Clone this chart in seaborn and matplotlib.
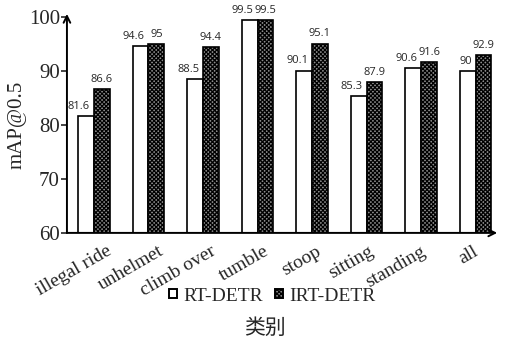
import numpy as np
import pandas as pd
import seaborn as sns
import matplotlib.pyplot as plt
from matplotlib.patches import Patch

categories = ['illegal ride', 'unhelmet', 'climb over', 'tumble', 'stoop', 'sitting', 'standing', 'all']
rt_detr = [81.6, 94.6, 88.5, 99.5, 90.1, 85.3, 90.6, 90]
irt_detr = [86.6, 95, 94.4, 99.5, 95.1, 87.9, 91.6, 92.9]
models = ['RT-DETR', 'IRT-DETR']
yticks = [60, 70, 80, 90, 100]

sns.set_theme(style='white')
plt.rcParams['font.family'] = ['Liberation Serif', 'Noto Sans CJK SC']
plt.rcParams['hatch.linewidth'] = 0.9

hatch = 'xxxxxxxx'
hatch_face = '#8c8c8c'

df = pd.DataFrame({
    'category': categories * 2,
    'value': rt_detr + irt_detr,
    'model': [models[0]] * len(categories) + [models[1]] * len(categories),
})

fig = plt.figure(figsize=(5.11, 3.43), dpi=100)
ax = fig.add_axes([0.131, 0.321, 0.842, 0.629])

sns.barplot(data=df, x='category', y='value', hue='model', order=categories,
            hue_order=models, width=0.58, gap=0, palette=['white', 'white'],
            edgecolor='black', linewidth=1.2, ax=ax, legend=False)

n = len(categories)
bars = ax.patches
for p in bars[n:2 * n]:
    p.set_hatch(hatch)
    p.set_facecolor(hatch_face)

ax.set_ylim(60, 100)
ax.set_xlim(-0.495, 7.395)
ax.set_yticks(yticks)
ax.tick_params(axis='y', labelsize=15, length=4, width=1.2, left=True, direction='out', pad=1)
ax.tick_params(axis='x', bottom=False, labelsize=14, pad=1)
# excel-style rotated labels, anchored a little right of each group
ax.set_xticks(np.arange(n) * 0.96 + 0.22)
ax.set_xticklabels(categories, rotation=30, ha='right', rotation_mode='anchor')
ax.set_xlabel('')
ax.set_ylabel('mAP@0.5', fontsize=15, labelpad=2)

for s in ['top', 'right', 'left', 'bottom']:
    ax.spines[s].set_visible(False)
ax.annotate('', xy=(0, 1.015), xytext=(0, 0), xycoords='axes fraction',
            arrowprops=dict(arrowstyle='->', lw=1.4, color='black', shrinkA=0, shrinkB=0))
ax.annotate('', xy=(1.0, 0), xytext=(0, 0), xycoords='axes fraction',
            arrowprops=dict(arrowstyle='->', lw=1.4, color='black', shrinkA=0, shrinkB=0))

# value labels
for p, v in zip(bars[:n], rt_detr):
    ax.annotate('{:g}'.format(v), (p.get_x() + p.get_width() - 0.07, v),
                xytext=(0, 3), textcoords='offset points', ha='right', va='bottom',
                fontsize=8, family='Open Sans')
for p, v in zip(bars[n:2 * n], irt_detr):
    ax.annotate('{:g}'.format(v), (p.get_x() + p.get_width() / 2, v),
                xytext=(0, 3), textcoords='offset points', ha='center', va='bottom',
                fontsize=8, family='Open Sans')

# legend
handles = [Patch(facecolor='white', edgecolor='black', lw=1.4),
           Patch(facecolor=hatch_face, edgecolor='black', hatch=hatch, lw=1.4)]
fig.legend(handles, models, loc='center', bbox_to_anchor=(0.533, 0.137), ncol=2,
           frameon=False, fontsize=14, handlelength=0.4, handleheight=0.4,
           handletextpad=0.35, columnspacing=0.6, borderpad=0)

fig.text(0.518, 0.045, '类别', ha='center', va='center', fontsize=15,
         family=['Noto Sans CJK SC'])

fig.savefig('out.png', dpi=100)
